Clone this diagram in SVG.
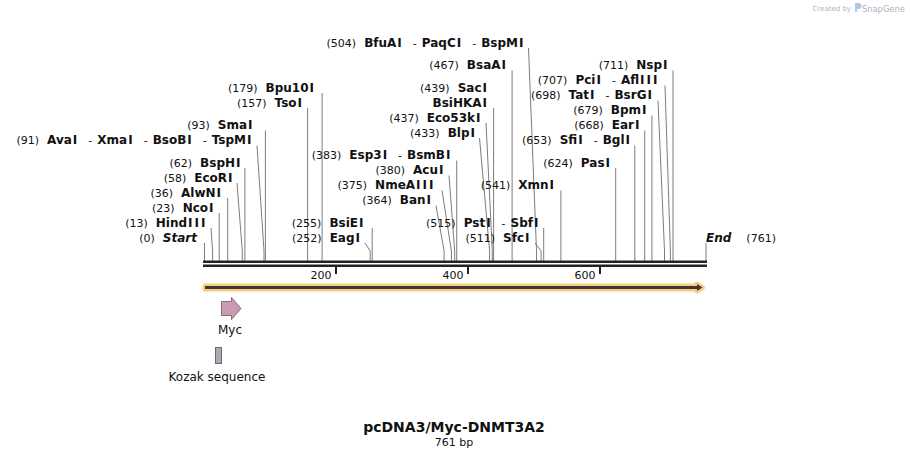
<svg xmlns="http://www.w3.org/2000/svg" width="910" height="458" viewBox="0 0 910 458">
<style>
text{font-family:"DejaVu Sans","Verdana",sans-serif;fill:#111}
.lb{text-anchor:end}
.p{font-size:11px;font-weight:normal}
.n{font-size:12px;font-weight:bold}
.s{font-size:11px;font-weight:normal}
.it{font-size:12px;font-weight:bold;font-style:italic}
.cn path{fill:none;stroke:#7d7d7d;stroke-width:1}
.tk{font-size:11px;text-anchor:end}
</style>
<rect width="910" height="458" fill="#fff"/>
<g id="credit">
<text x="851" y="10.5" style="font-size:7px;fill:#b5b5b5;text-anchor:end">Created by</text>
<path d="M855 3 h3.5 a3 3 0 0 1 0 6 h-1.5 v3 h-2 z" fill="#a9cbe6"/>
<text x="862" y="11.5" style="font-size:8.3px;fill:#aab4be">SnapGene</text>
</g>
<g class="cn" id="connectors">
<path d="M204.5 243V261"/>
<path d="M211 228L212.6 251V261"/>
<path d="M219.2 213V261"/>
<path d="M227.7 198V261"/>
<path d="M237 183L242.3 251V261"/>
<path d="M244.9 168V261"/>
<path d="M257 145.5L264 251V261"/>
<path d="M265.4 130.5V261"/>
<path d="M307.6 108V261"/>
<path d="M322.1 93V261"/>
<path d="M365 243L370.2 251V261"/>
<path d="M372.2 228V261"/>
<path d="M436 205.5L444.1 251V261"/>
<path d="M442 190.5L451.4 251V261"/>
<path d="M449 175.5L454.7 251V261"/>
<path d="M456.7 160.5V261"/>
<path d="M479.5 138L489.6 251V261"/>
<path d="M486 123L492.3 251V261"/>
<path d="M493.6 108V261"/>
<path d="M512.1 70.5V261"/>
<path d="M528.5 48L536.5 251V261"/>
<path d="M535 243L541.1 251V261"/>
<path d="M543.7 228V261"/>
<path d="M560.9 190.5V261"/>
<path d="M615.7 168V261"/>
<path d="M634.8 145.5V261"/>
<path d="M644.7 130.5V261"/>
<path d="M651.9 115.5V261"/>
<path d="M658 100.5L664.5 251V261"/>
<path d="M665 85.5L670.4 251V261"/>
<path d="M673 70.5V261"/>
<path d="M706 243V261"/>
</g>
<g id="ruler">
<rect x="203" y="260.5" width="504" height="2.5" fill="#222"/>
<rect x="203" y="264.5" width="504" height="2.5" fill="#222"/>
<rect x="335" y="267" width="2" height="7" fill="#222"/>
<rect x="467" y="267" width="2" height="7" fill="#222"/>
<rect x="599" y="267" width="2" height="7" fill="#222"/>
<text class="tk" x="331.5" y="279">200</text>
<text class="tk" x="463.5" y="279">400</text>
<text class="tk" x="595.5" y="279">600</text>
</g>
<g id="start"><text class="lb" x="197" y="241.5"><tspan class="p">(0)</tspan><tspan class="it" dx="8">Start</tspan></text></g>
<g id="end"><text x="706" y="241.5"><tspan class="it">End</tspan><tspan class="p" dx="15">(761)</tspan></text></g>
<g id="HindIII"><text class="lb" x="205.5" y="226.5"><tspan class="p">(13)</tspan><tspan class="n" dx="8">Hind<tspan dx="1 2 2">III</tspan></tspan></text></g>
<g id="NcoI"><text class="lb" x="213.5" y="211.5"><tspan class="p">(23)</tspan><tspan class="n" dx="8">Nco<tspan dx="1">I</tspan></tspan></text></g>
<g id="AlwNI"><text class="lb" x="221" y="196.5"><tspan class="p">(36)</tspan><tspan class="n" dx="8">AlwN<tspan dx="1">I</tspan></tspan></text></g>
<g id="EcoRI"><text class="lb" x="232.5" y="181.5"><tspan class="p">(58)</tspan><tspan class="n" dx="8">EcoR<tspan dx="1">I</tspan></tspan></text></g>
<g id="BspHI"><text class="lb" x="240.5" y="166.5"><tspan class="p">(62)</tspan><tspan class="n" dx="8">BspH<tspan dx="1">I</tspan></tspan></text></g>
<g id="AvaI"><text class="lb" x="251.5" y="144"><tspan class="p">(91)</tspan><tspan class="n" dx="8">Ava<tspan dx="1">I</tspan></tspan><tspan class="s" dx="11">-</tspan><tspan class="n" dx="5">Xma<tspan dx="1">I</tspan></tspan><tspan class="s" dx="11">-</tspan><tspan class="n" dx="5">BsoB<tspan dx="1">I</tspan></tspan><tspan class="s" dx="11">-</tspan><tspan class="n" dx="5">TspM<tspan dx="1">I</tspan></tspan></text></g>
<g id="SmaI"><text class="lb" x="252.5" y="129"><tspan class="p">(93)</tspan><tspan class="n" dx="8">Sma<tspan dx="1">I</tspan></tspan></text></g>
<g id="TsoI"><text class="lb" x="302" y="106.5"><tspan class="p">(157)</tspan><tspan class="n" dx="8">Tso<tspan dx="1">I</tspan></tspan></text></g>
<g id="Bpu10I"><text class="lb" x="314" y="91.5"><tspan class="p">(179)</tspan><tspan class="n" dx="8">Bpu10<tspan dx="1">I</tspan></tspan></text></g>
<g id="EagI"><text class="lb" x="360" y="241.5"><tspan class="p">(252)</tspan><tspan class="n" dx="8">Eag<tspan dx="1">I</tspan></tspan></text></g>
<g id="BsiEI"><text class="lb" x="363.5" y="226.5"><tspan class="p">(255)</tspan><tspan class="n" dx="8">BsiE<tspan dx="1">I</tspan></tspan></text></g>
<g id="BanI"><text class="lb" x="431" y="204"><tspan class="p">(364)</tspan><tspan class="n" dx="8">Ban<tspan dx="1">I</tspan></tspan></text></g>
<g id="NmeAIII"><text class="lb" x="433.5" y="189"><tspan class="p">(375)</tspan><tspan class="n" dx="8">NmeA<tspan dx="1 2 2">III</tspan></tspan></text></g>
<g id="AcuI"><text class="lb" x="443.5" y="174"><tspan class="p">(380)</tspan><tspan class="n" dx="8">Acu<tspan dx="1">I</tspan></tspan></text></g>
<g id="Esp3I"><text class="lb" x="450.5" y="159"><tspan class="p">(383)</tspan><tspan class="n" dx="8">Esp3<tspan dx="1">I</tspan></tspan><tspan class="s" dx="11">-</tspan><tspan class="n" dx="5">BsmB<tspan dx="1">I</tspan></tspan></text></g>
<g id="BlpI"><text class="lb" x="475" y="136.5"><tspan class="p">(433)</tspan><tspan class="n" dx="8">Blp<tspan dx="1">I</tspan></tspan></text></g>
<g id="Eco53kI"><text class="lb" x="480.5" y="121.5"><tspan class="p">(437)</tspan><tspan class="n" dx="8">Eco53k<tspan dx="1">I</tspan></tspan></text></g>
<g id="SacI"><text class="lb" x="487" y="91.5"><tspan class="p">(439)</tspan><tspan class="n" dx="8">Sac<tspan dx="1">I</tspan></tspan></text><text class="lb n" x="487" y="106.5">BsiHKA<tspan dx="1">I</tspan></text></g>
<g id="BsaAI"><text class="lb" x="506" y="69"><tspan class="p">(467)</tspan><tspan class="n" dx="8">BsaA<tspan dx="1">I</tspan></tspan></text></g>
<g id="BfuAI"><text class="lb" x="523.5" y="46.5"><tspan class="p">(504)</tspan><tspan class="n" dx="8">BfuA<tspan dx="1">I</tspan></tspan><tspan class="s" dx="11">-</tspan><tspan class="n" dx="5">PaqC<tspan dx="1">I</tspan></tspan><tspan class="s" dx="11">-</tspan><tspan class="n" dx="5">BspM<tspan dx="1">I</tspan></tspan></text></g>
<g id="SfcI"><text class="lb" x="529.5" y="241.5"><tspan class="p">(511)</tspan><tspan class="n" dx="8">Sfc<tspan dx="1">I</tspan></tspan></text></g>
<g id="PstI"><text class="lb" x="538.5" y="226.5"><tspan class="p">(515)</tspan><tspan class="n" dx="8">Pst<tspan dx="1">I</tspan></tspan><tspan class="s" dx="11">-</tspan><tspan class="n" dx="5">Sbf<tspan dx="1">I</tspan></tspan></text></g>
<g id="XmnI"><text class="lb" x="554" y="189"><tspan class="p">(541)</tspan><tspan class="n" dx="8">Xmn<tspan dx="1">I</tspan></tspan></text></g>
<g id="PasI"><text class="lb" x="610" y="166.5"><tspan class="p">(624)</tspan><tspan class="n" dx="8">Pas<tspan dx="1">I</tspan></tspan></text></g>
<g id="SfiI"><text class="lb" x="630" y="144"><tspan class="p">(653)</tspan><tspan class="n" dx="8">Sfi<tspan dx="1">I</tspan></tspan><tspan class="s" dx="11">-</tspan><tspan class="n" dx="5">Bgl<tspan dx="1">I</tspan></tspan></text></g>
<g id="EarI"><text class="lb" x="639.5" y="129"><tspan class="p">(668)</tspan><tspan class="n" dx="8">Ear<tspan dx="1">I</tspan></tspan></text></g>
<g id="BpmI"><text class="lb" x="646.5" y="114"><tspan class="p">(679)</tspan><tspan class="n" dx="8">Bpm<tspan dx="1">I</tspan></tspan></text></g>
<g id="TatI"><text class="lb" x="652" y="99"><tspan class="p">(698)</tspan><tspan class="n" dx="8">Tat<tspan dx="1">I</tspan></tspan><tspan class="s" dx="11">-</tspan><tspan class="n" dx="5">BsrG<tspan dx="1">I</tspan></tspan></text></g>
<g id="PciI"><text class="lb" x="657.5" y="84"><tspan class="p">(707)</tspan><tspan class="n" dx="8">Pci<tspan dx="1">I</tspan></tspan><tspan class="s" dx="11">-</tspan><tspan class="n" dx="5">Afl<tspan dx="1 2 2">III</tspan></tspan></text></g>
<g id="NspI"><text class="lb" x="667.5" y="69"><tspan class="p">(711)</tspan><tspan class="n" dx="8">Nsp<tspan dx="1">I</tspan></tspan></text></g>
<g id="insert">
<path d="M205 286H697V284L702.5 287.5L697 291V289H205Z" fill="#3d3833" stroke="#f9cd80" stroke-width="5" stroke-linejoin="round" paint-order="stroke"/>
</g>
<g id="Myc">
<path d="M221.5 301.5H231.5V297.5L241 308.5L231.5 319.5V315.5H221.5Z" fill="#cc9ab3" stroke="#8b6a7b" stroke-width="1"/>
<text x="230" y="334" style="font-size:12px;text-anchor:middle">Myc</text>
</g>
<g id="Kozak">
<rect x="215.5" y="347.5" width="6" height="16" fill="#a7abb2" stroke="#676a70" stroke-width="1"/>
<text x="217" y="381" style="font-size:12px;text-anchor:middle">Kozak sequence</text>
</g>
<g id="title">
<text x="454" y="432" style="font-size:14px;font-weight:bold;text-anchor:middle">pcDNA3/Myc-DNMT3A2</text>
<text x="454" y="446" style="font-size:11px;text-anchor:middle">761 bp</text>
</g>
</svg>
